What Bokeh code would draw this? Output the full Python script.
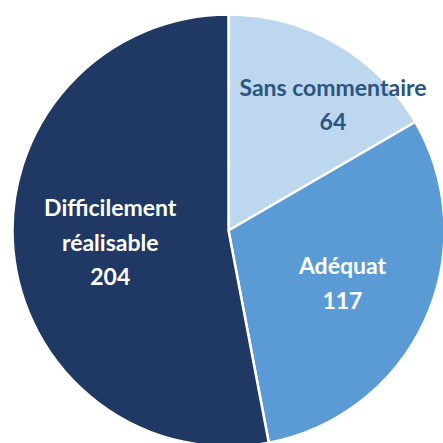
import math
from bokeh.plotting import figure
from bokeh.models import Range1d, ColumnDataSource
from bokeh.core.properties import value
from bokeh.embed import file_html
from bokeh.resources import INLINE

# ---- data ----
categories = ["Sans commentaire", "Adéquat", "Difficilement\nréalisable"]
counts = [64, 117, 204]
colors = ["#BDD7EE", "#5B9BD5", "#1F3864"]
label_colors = ["#2B5580", "#FFFFFF", "#FFFFFF"]

# ---- layout/style (not data) ----
W = H = 443
cx, cy, R = 228, 213, 216
label_r = [0.76, 0.58, 0.55]        # radial fraction per label
label_shift = [9.6, 0.0, 0.0]       # angular nudge (degrees, clockwise)

total = sum(counts)
starts, ends, lx, ly, texts = [], [], [], [], []
cum = 0
for i, c in enumerate(counts):
    a0 = math.pi / 2 - 2 * math.pi * cum / total
    cum += c
    a1 = math.pi / 2 - 2 * math.pi * cum / total
    starts.append(a0)
    ends.append(a1)
    mid = (a0 + a1) / 2 - math.radians(label_shift[i])
    lx.append(cx + label_r[i] * R * math.cos(mid))
    ly.append(cy + label_r[i] * R * math.sin(mid))
    texts.append(f"{categories[i]}\n{c}")

src = ColumnDataSource(dict(start=starts, end=ends, color=colors,
                            x=[cx] * 3, y=[cy] * 3))
lsrc = ColumnDataSource(dict(x=lx, y=ly, text=texts, tcolor=label_colors))

p = figure(width=W, height=H, output_backend="svg", toolbar_location=None,
           x_range=Range1d(0, W), y_range=Range1d(0, H), min_border=0,
           background_fill_color="white", border_fill_color="white")
p.axis.visible = False
p.grid.visible = False
p.outline_line_color = None

p.wedge(x="x", y="y", radius=R, start_angle="start", end_angle="end",
        direction="clock", fill_color="color", line_color="white",
        line_width=2.5, source=src)

p.text(x="x", y="y", text="text", text_color="tcolor", source=lsrc,
       text_align="center", text_baseline="middle",
       text_font=value("Lato"), text_font_style="bold",
       text_font_size="23px", text_line_height=1.22)

open("out.html", "w").write(file_html(p, INLINE))
